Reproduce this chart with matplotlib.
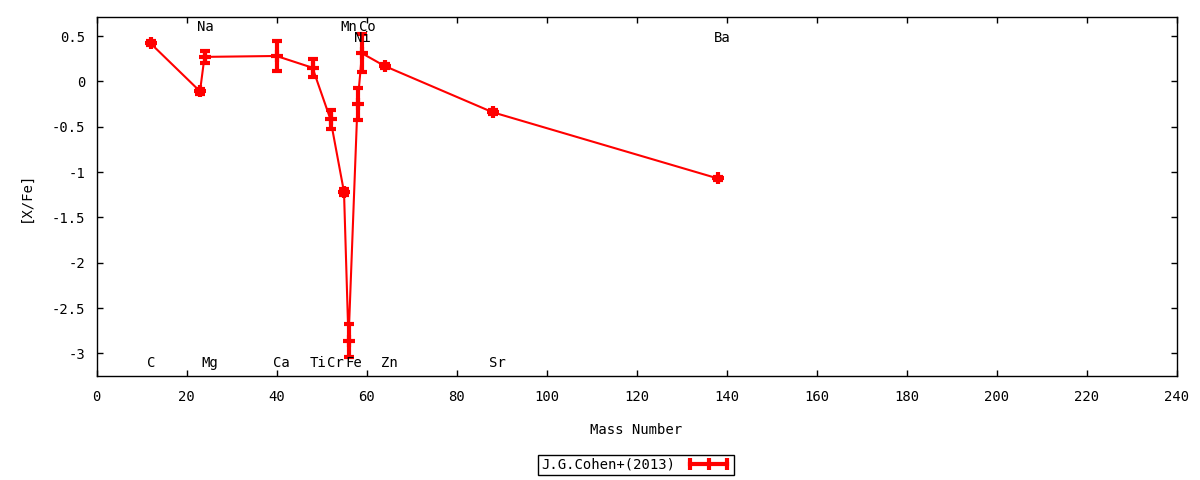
import matplotlib
matplotlib.use('Agg')
import matplotlib.pyplot as plt
from matplotlib.lines import Line2D
from matplotlib.ticker import FuncFormatter, MultipleLocator

plt.rcParams['font.family'] = 'DejaVu Sans Mono'
plt.rcParams['font.size'] = 10
plt.rcParams['axes.unicode_minus'] = False

# abundances
elements = ['C', 'Na', 'Mg', 'Ca', 'Ti', 'Cr', 'Mn', 'Fe', 'Ni', 'Co', 'Zn', 'Sr', 'Ba']
mass = [12, 23, 24, 40, 48, 52, 55, 56, 58, 59, 64, 88, 138]
xfe = [0.42, -0.11, 0.27, 0.28, 0.15, -0.42, -1.22, -2.86, -0.25, 0.31, 0.17, -0.34, -1.07]
err = [0.02, 0.03, 0.065, 0.17, 0.1, 0.1, 0.03, 0.18, 0.18, 0.21, 0.02, 0.02, 0.02]
# where each element name sits (top or bottom of the frame)
label_y = [-3.11, 0.6, -3.11, -3.11, -3.11, -3.11, 0.6, -3.11, 0.48, 0.6, -3.11, -3.11, 0.48]

fig = plt.figure(figsize=(12, 4.8), dpi=100)
ax = fig.add_axes([96.5 / 1200, 104 / 480, 1080 / 1200, 359 / 480])

ax.errorbar(mass, xfe, yerr=err, color='red', lw=1.5, marker='+', ms=9, mew=3,
            elinewidth=3, capsize=3.6, capthick=3)

for el, m, ly in zip(elements, mass, label_y):
    ax.text(m - 0.7, ly, el, ha='left', va='center', fontsize=10)

ax.set_xlim(0, 240)
ax.set_ylim(-3.25, 0.71)
ax.xaxis.set_major_locator(MultipleLocator(20))
ax.yaxis.set_major_locator(MultipleLocator(0.5))
ax.yaxis.set_major_formatter(FuncFormatter(lambda v, p: '%g' % v))
ax.tick_params(direction='in', length=4, width=1, top=True, right=True)
ax.tick_params(axis='x', pad=10)
ax.tick_params(axis='y', pad=8)
for s in ax.spines.values():
    s.set_linewidth(1)

ax.set_xlabel('Mass Number', labelpad=14)
ax.set_ylabel('[X/Fe]', labelpad=14)

proxy = Line2D([], [], color='red', lw=3, marker='|', ms=9, mew=3)
leg = fig.legend([proxy], ['J.G.Cohen+(2013)'], loc='center',
                 bbox_to_anchor=(636 / 1200, 1 - 465 / 480), numpoints=3,
                 markerfirst=False, handlelength=3.2, fancybox=False,
                 framealpha=1, borderpad=0.25, handletextpad=0.8, borderaxespad=0)
leg.get_frame().set_edgecolor('black')
leg.get_frame().set_linewidth(1)

fig.savefig('out.png', dpi=100)
